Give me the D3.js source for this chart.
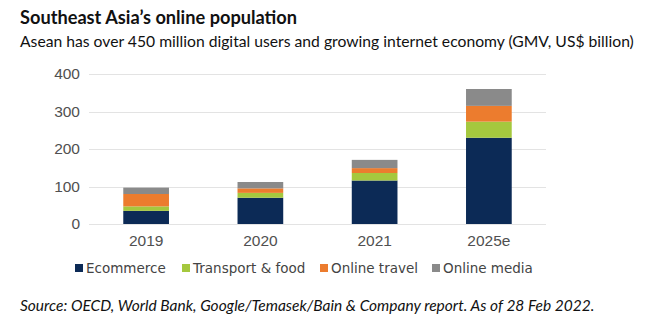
<!DOCTYPE html>
<html>
<head>
<meta charset="utf-8">
<script src="https://cdn.jsdelivr.net/npm/d3@7"></script>
<style>
  body { margin: 0; background: #fff; }
  svg { display: block; }
</style>
</head>
<body>
<script>
var years = ['2019', '2020', '2021', '2025e'];
var seriesNames = ['Ecommerce', 'Transport & food', 'Online travel', 'Online media'];
var ecommerce = [35, 70, 116, 230];
var transport = [12, 13, 20, 43];
var travel = [33, 12, 13, 42];
var media = [17, 17, 22, 45];
var yTicks = [0, 100, 200, 300, 400];

var colors = ['#0c2a56', '#a5c83e', '#ec7c2e', '#8a8a8a'];

var w = 667, h = 323;
var margin = { left: 89, right: 121, top: 74, bottom: 99 };

var svg = d3.select('body').append('svg')
  .attr('width', w)
  .attr('height', h);

var rows = years.map((y, i) => ({
  year: y,
  'Ecommerce': ecommerce[i],
  'Transport & food': transport[i],
  'Online travel': travel[i],
  'Online media': media[i]
}));

var stacked = d3.stack().keys(seriesNames)(rows);

var x = d3.scaleBand()
  .domain(years)
  .range([margin.left, w - margin.right])
  .paddingInner(0.6)
  .paddingOuter(0.3);

var y = d3.scaleLinear()
  .domain([0, 400])
  .range([h - margin.bottom, margin.top]);

// gridlines
svg.append('g')
  .selectAll('line')
  .data(yTicks)
  .enter()
  .append('line')
  .attr('x1', margin.left)
  .attr('x2', w - margin.right)
  .attr('y1', d => Math.round(y(d)) + 0.5)
  .attr('y2', d => Math.round(y(d)) + 0.5)
  .attr('stroke', '#e3e3e3')
  .attr('stroke-width', 1);

// y axis labels
var yAxis = d3.axisLeft(y).tickValues(yTicks).tickSize(0).tickPadding(9);
svg.append('g')
  .attr('transform', 'translate(' + margin.left + ',0)')
  .call(yAxis)
  .call(g => g.select('.domain').remove())
  .selectAll('text')
  .attr('font-family', '"Liberation Sans", Arial, sans-serif')
  .attr('font-size', 15.5)
  .attr('fill', '#505050');

// bars
svg.append('g')
  .selectAll('g')
  .data(stacked)
  .enter()
  .append('g')
  .attr('fill', (d, i) => colors[i])
  .selectAll('rect')
  .data(d => d)
  .enter()
  .append('rect')
  .attr('x', d => x(d.data.year))
  .attr('width', x.bandwidth())
  .attr('y', d => y(d[1]))
  .attr('height', d => y(d[0]) - y(d[1]));

// x axis labels
var xAxis = d3.axisBottom(x).tickSize(0).tickPadding(11);
svg.append('g')
  .attr('transform', 'translate(0,' + (h - margin.bottom) + ')')
  .call(xAxis)
  .call(g => g.select('.domain').remove())
  .selectAll('text')
  .attr('font-family', '"Liberation Sans", Arial, sans-serif')
  .attr('font-size', 15.5)
  .attr('fill', '#505050');

// legend
var legendX = [75, 182, 320, 432];
var legend = svg.append('g')
  .selectAll('g')
  .data(seriesNames)
  .enter()
  .append('g')
  .attr('transform', (d, i) => 'translate(' + legendX[i] + ',268)');

legend.append('rect')
  .attr('x', 0)
  .attr('y', -4)
  .attr('width', 8)
  .attr('height', 8)
  .attr('fill', (d, i) => colors[i]);

legend.append('text')
  .attr('x', 11)
  .attr('y', 5)
  .attr('font-family', '"DejaVu Sans", sans-serif')
  .attr('font-size', 13.5)
  .attr('fill', '#444')
  .text(d => d);

// titles
svg.append('text')
  .attr('x', 20)
  .attr('y', 24)
  .attr('font-family', 'Lato, sans-serif')
  .attr('font-weight', 'bold')
  .attr('font-size', 18.2)
  .attr('fill', '#111')
  .text('Southeast Asia\u2019s online population');

svg.append('text')
  .attr('x', 20)
  .attr('y', 47)
  .attr('font-family', 'Lato, sans-serif')
  .attr('font-size', 15.7)
  .attr('fill', '#111')
  .text('Asean has over 450 million digital users and growing internet economy (GMV, US$ billion)');

svg.append('text')
  .attr('x', 20)
  .attr('y', 311)
  .attr('font-family', 'Lato, sans-serif')
  .attr('font-style', 'italic')
  .attr('font-size', 15.5)
  .attr('fill', '#111')
  .text('Source: OECD, World Bank, Google/Temasek/Bain & Company report. As of 28 Feb 2022.');
</script>
</body>
</html>
